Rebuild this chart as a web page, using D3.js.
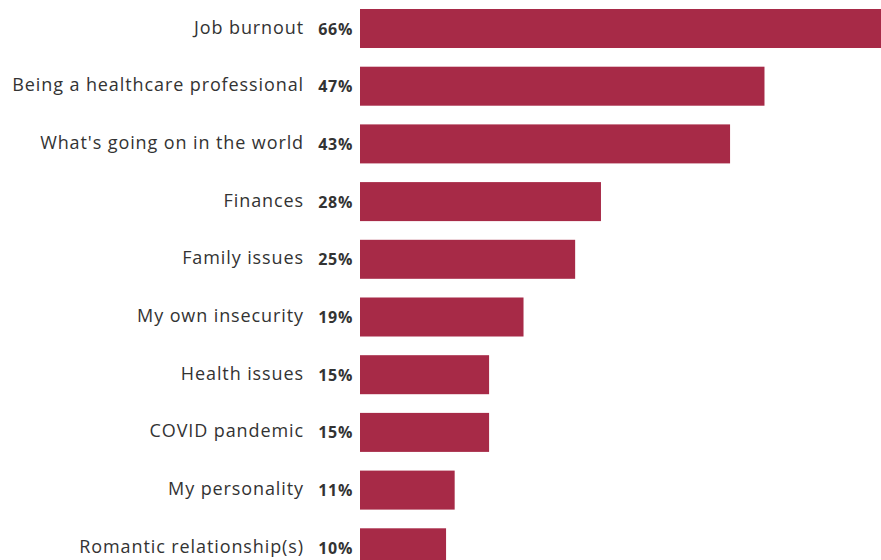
<!DOCTYPE html>
<html lang="en">
<head>
    <meta charset="UTF-8">
    <title>Sources of unhappiness</title>
    <style>
        html, body {
            margin: 0;
            padding: 0;
            background: #fff;
            overflow: hidden;
        }
        svg {
            display: block;
        }
        .cat {
            font-family: "Open Sans", sans-serif;
            font-size: 18px;
            letter-spacing: 0.9px;
            fill: #333;
        }
        .pct {
            font-family: "Open Sans", sans-serif;
            font-size: 16px;
            font-weight: 700;
            letter-spacing: 0.7px;
            fill: #333;
        }
    </style>
</head>
<body>
<svg id="chart"></svg>
<script src="https://cdn.jsdelivr.net/npm/d3@7/dist/d3.min.js"></script>
<script>
    const categories = ['Job burnout', 'Being a healthcare professional', "What's going on in the world",
        'Finances', 'Family issues', 'My own insecurity', 'Health issues', 'COVID pandemic',
        'My personality', 'Romantic relationship(s)']
    const values = [66, 47, 43, 28, 25, 19, 15, 15, 11, 10]

    const width = 881, height = 560
    const barColor = '#a72a47'

    let svg = d3.select('#chart').attr('width', width).attr('height', height)

    let x = d3.scaleLinear().domain([0, 66]).range([360, 928])
    let y = d3.scaleBand().domain(categories).range([9, 567.3]).paddingInner(0.324).paddingOuter(0)

    let rows = svg.selectAll('g.row').data(categories).enter().append('g').attr('class', 'row')

    rows.append('rect')
        .attr('x', x(0))
        .attr('y', d => y(d))
        .attr('width', (d, i) => x(values[i]) - x(0))
        .attr('height', y.bandwidth())
        .attr('fill', barColor)

    rows.append('text')
        .attr('class', 'pct')
        .attr('x', 353)
        .attr('y', d => y(d) + y.bandwidth() / 2 + 6)
        .attr('text-anchor', 'end')
        .text((d, i) => values[i] + '%')

    rows.append('text')
        .attr('class', 'cat')
        .attr('x', 304)
        .attr('y', d => y(d) + y.bandwidth() / 2 + 5)
        .attr('text-anchor', 'end')
        .text(d => d)
</script>
</body>
</html>
